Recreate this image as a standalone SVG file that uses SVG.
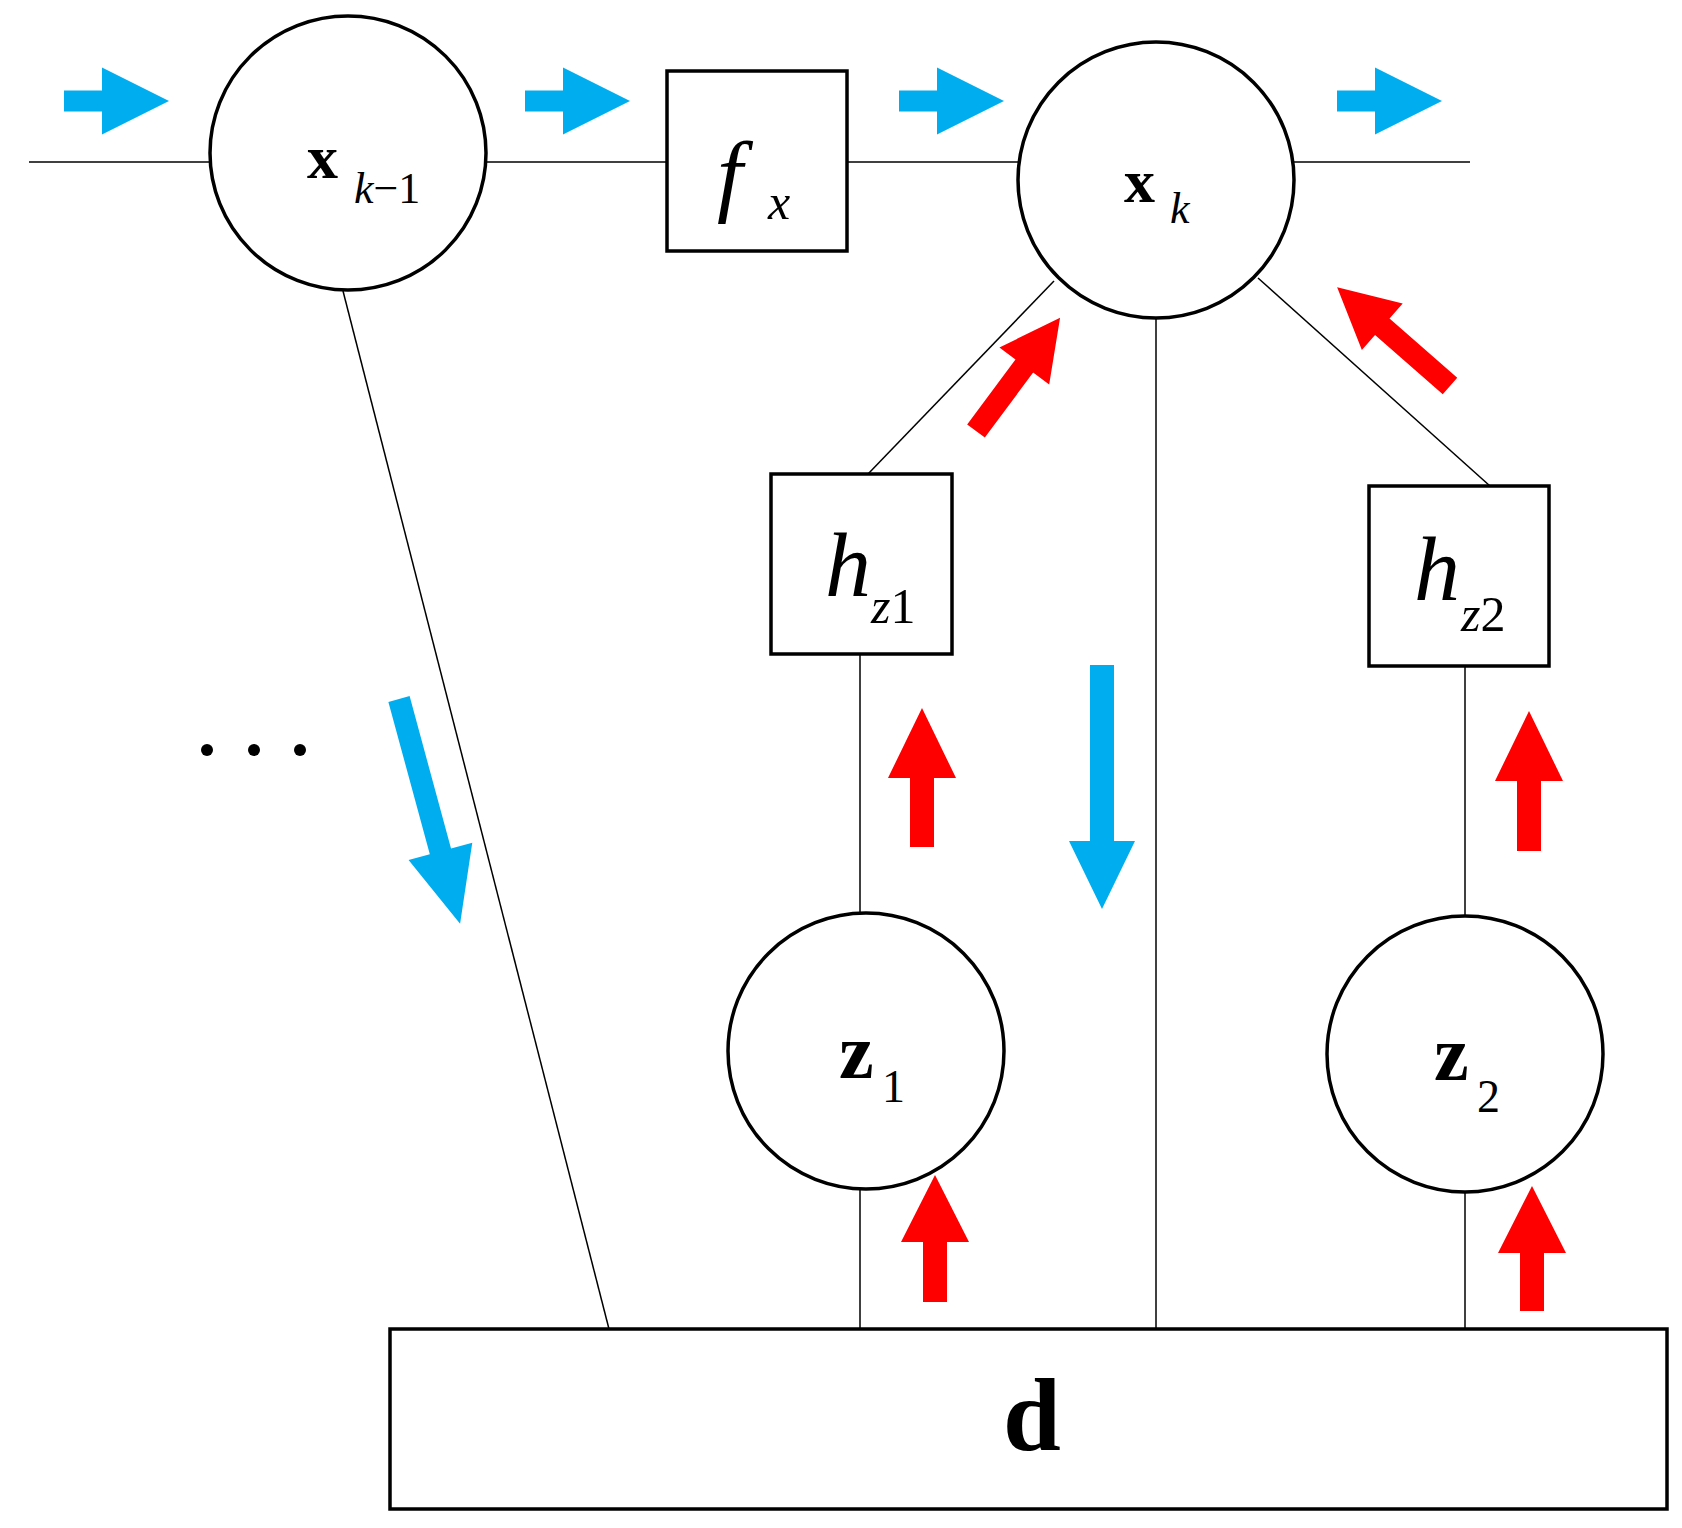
<svg xmlns="http://www.w3.org/2000/svg" width="1682" height="1528" viewBox="0 0 1682 1528">
<style>
.n{fill:#fff;stroke:#000;stroke-width:3.5}
.c{stroke:#000;stroke-width:1.5;fill:none}
.b{fill:#00AEEF}
.r{fill:#FF0000}
text{font-family:"Liberation Serif","Times New Roman",serif;fill:#000}
.bd{font-weight:bold}
.it{font-style:italic}
</style>
<rect width="1682" height="1528" fill="#fff"/>
<g id="connectors">
<line class="c" x1="29" y1="162" x2="1470" y2="162"/>
<line class="c" x1="343" y1="291" x2="609" y2="1329"/>
<line class="c" x1="1054" y1="281" x2="868" y2="474"/>
<line class="c" x1="1258" y1="278" x2="1490" y2="486"/>
<line class="c" x1="1156" y1="318" x2="1156" y2="1329"/>
<line class="c" x1="860" y1="654" x2="860" y2="913"/>
<line class="c" x1="860" y1="1189" x2="860" y2="1329"/>
<line class="c" x1="1465" y1="666" x2="1465" y2="917"/>
<line class="c" x1="1465" y1="1191" x2="1465" y2="1329"/>
</g>
<g id="xkm1"><ellipse class="n" cx="348" cy="153" rx="138" ry="137"/>
<text x="307" y="178" font-size="62" class="bd">x</text><text x="354" y="203" font-size="44"><tspan class="it">k</tspan>−1</text></g>
<g id="fx"><rect class="n" x="667" y="71" width="180" height="180"/>
<text x="717" y="205" font-size="92" class="it">f</text><text x="768" y="219" font-size="50" class="it">x</text></g>
<g id="xk"><ellipse class="n" cx="1156" cy="180" rx="138" ry="138"/>
<text x="1124" y="202" font-size="62" class="bd">x</text><text x="1170" y="223" font-size="44" class="it">k</text></g>
<g id="hz1"><rect class="n" x="771" y="474" width="181" height="180"/>
<text x="825" y="596" font-size="92" class="it">h</text><text x="871" y="623" font-size="50"><tspan class="it">z</tspan>1</text></g>
<g id="hz2"><rect class="n" x="1369" y="486" width="180" height="180"/>
<text x="1414" y="600" font-size="92" class="it">h</text><text x="1461" y="631" font-size="50"><tspan class="it">z</tspan>2</text></g>
<g id="z1"><ellipse class="n" cx="866" cy="1051" rx="138" ry="138"/>
<text x="839" y="1078" font-size="78" class="bd">z</text><text x="882" y="1102" font-size="46">1</text></g>
<g id="z2"><ellipse class="n" cx="1465" cy="1054" rx="138" ry="138"/>
<text x="1434" y="1080" font-size="78" class="bd">z</text><text x="1477" y="1112" font-size="46">2</text></g>
<g id="d"><rect class="n" x="390" y="1329" width="1277" height="180"/>
<text x="1003" y="1450" font-size="104" class="bd">d</text></g>
<g id="dots"><circle cx="207" cy="750" r="6"/><circle cx="254" cy="750" r="6"/><circle cx="300" cy="750" r="6"/></g>
<g id="arrows">
<polygon class="b" transform="translate(64,101)" points="0,-10.5 38,-10.5 38,-33.5 105,0 38,33.5 38,10.5 0,10.5"/>
<polygon class="b" transform="translate(525,101)" points="0,-10.5 38,-10.5 38,-33.5 105,0 38,33.5 38,10.5 0,10.5"/>
<polygon class="b" transform="translate(899,101)" points="0,-10.5 38,-10.5 38,-33.5 105,0 38,33.5 38,10.5 0,10.5"/>
<polygon class="b" transform="translate(1337,101)" points="0,-10.5 38,-10.5 38,-33.5 105,0 38,33.5 38,10.5 0,10.5"/>
<polygon class="b" transform="translate(399,699) rotate(74.8)" points="0,-11 158,-11 158,-33 233,0 158,33 158,11 0,11"/>
<polygon class="b" transform="translate(1102,665) rotate(90)" points="0,-12 176,-12 176,-33 244,0 176,33 176,12 0,12"/>
<polygon class="r" transform="translate(922,847) rotate(-90)" points="0,-12 69,-12 69,-34 139,0 69,34 69,12 0,12"/>
<polygon class="r" transform="translate(1529,851) rotate(-90)" points="0,-12 70,-12 70,-34 140,0 70,34 70,12 0,12"/>
<polygon class="r" transform="translate(935,1302) rotate(-90)" points="0,-12 60,-12 60,-34 127,0 60,34 60,12 0,12"/>
<polygon class="r" transform="translate(1532,1311) rotate(-90)" points="0,-12 58,-12 58,-34 125,0 58,34 58,12 0,12"/>
<polygon class="r" transform="translate(976,431) rotate(-53.4)" points="0,-11 81,-11 81,-31 141,0 81,31 81,11 0,11"/>
<polygon class="r" transform="translate(1450,386) rotate(221.2)" points="0,-11 90,-11 90,-31 150,0 90,31 90,11 0,11"/>
</g>
</svg>
